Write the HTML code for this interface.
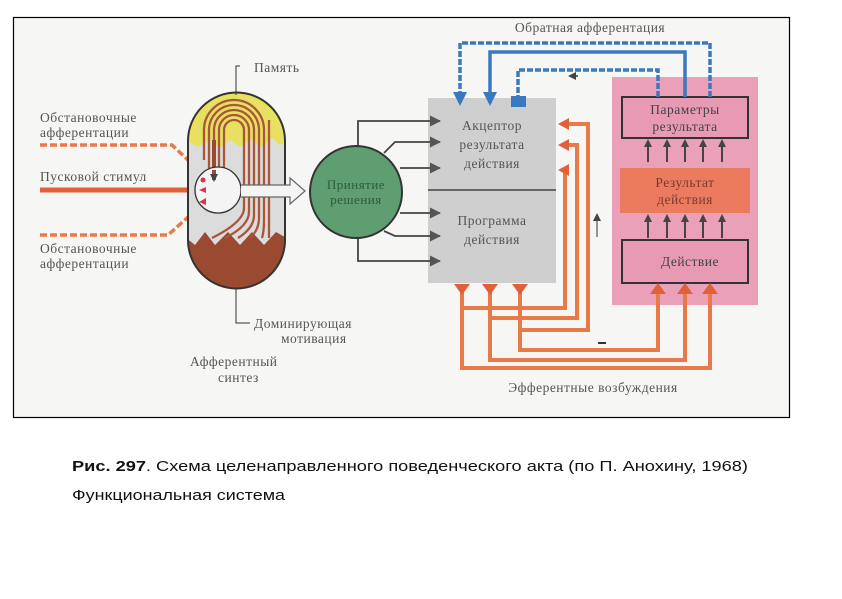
<!DOCTYPE html>
<html><head><meta charset="utf-8"><style>
html,body{margin:0;padding:0;background:#fff;}
svg{display:block;}
.t{font-family:"Liberation Serif",serif;fill:#555;font-size:13.5px;letter-spacing:0.5px;}
.c{font-family:"Liberation Sans",sans-serif;fill:#111;font-size:14.5px;}
</style></head><body>
<svg width="842" height="599" viewBox="0 0 842 599" xmlns="http://www.w3.org/2000/svg">
<defs>
<marker id="ab" markerWidth="8" markerHeight="8" refX="6" refY="4" orient="auto" markerUnits="userSpaceOnUse"><path d="M0,0 L8,4 L0,8 Z" fill="#444"/></marker>
<marker id="ak" markerWidth="11" markerHeight="11" refX="10" refY="5.5" orient="auto" markerUnits="userSpaceOnUse"><path d="M0,0 L11,5.5 L0,11 Z" fill="#555"/></marker>
<marker id="abl" markerWidth="14" markerHeight="14" refX="11" refY="7" orient="auto" markerUnits="userSpaceOnUse"><path d="M0,0 L14,7 L0,14 Z" fill="#3a78c0"/></marker>
</defs>
<rect x="13.5" y="17.5" width="776" height="400" fill="#f6f6f4" stroke="#000" stroke-width="1.2"/>

<text class="t" x="40" y="122">Обстановочные</text>
<text class="t" x="40" y="137">афферентации</text>
<text class="t" x="40" y="181">Пусковой стимул</text>
<text class="t" x="40" y="253">Обстановочные</text>
<text class="t" x="40" y="268">афферентации</text>
<path d="M40,145 H172 L205,176" fill="none" stroke="#e87a4a" stroke-width="3.5" stroke-dasharray="7,3"/>
<path d="M40,235 H168 L205,202" fill="none" stroke="#e87a4a" stroke-width="3.5" stroke-dasharray="7,3"/>
<path d="M40,190 H204" fill="none" stroke="#e0603a" stroke-width="5"/>

<clipPath id="cap"><path d="M188,141 A48.5,48.5 0 0 1 285,141 V240 A48.5,48.5 0 0 1 188,240 Z"/></clipPath>
<g clip-path="url(#cap)">
<rect x="185" y="90" width="105" height="200" fill="#dcdcdc"/>
<path d="M185,90 H290 V140 L280,145 L272,138 L262,147 L250,140 L240,147 L230,140 L220,148 L210,140 L198,147 L185,140 Z" fill="#e8e060"/>
<path d="M185,237 L195,245 L205,232 L215,245 L228,232 L240,245 L252,232 L264,245 L276,232 L290,240 V295 H185 Z" fill="#9a4a30"/>
</g>
<g fill="none" stroke="#a8583a" stroke-width="2.3">
<path d="M214,178 V130 A20,20 0 0 1 254,130 V215 Q254,228 238,238"/>
<path d="M219,175 V130 A15,15 0 0 1 249,130 V212 Q249,226 225,238"/>
<path d="M209,170 V130 A25,25 0 0 1 259,130 V218 Q259,230 250,238"/>
<path d="M204,160 V130 A30,30 0 0 1 264,130 V220 Q264,232 262,238"/>
<path d="M224,172 V130 A10,10 0 0 1 244,130 V208 Q244,222 212,238"/>
<path d="M269,120 V238"/>
</g>
<path d="M214,140 V175" stroke="#9a4a30" stroke-width="4"/>
<circle cx="218" cy="190" r="23" fill="#f4f4f4" stroke="#333" stroke-width="1.3"/>
<path d="M214,170 V180" stroke="#9a4a30" stroke-width="4" marker-end="url(#ab)"/>
<path d="M188,141 A48.5,48.5 0 0 1 285,141 V240 A48.5,48.5 0 0 1 188,240 Z" fill="none" stroke="#333" stroke-width="2"/>
<circle cx="203" cy="180" r="2.5" fill="#e0304a"/>
<path d="M199,190 l7,-3 v6 z M199,202 l7,-4 v7 z" fill="#e0304a"/>
<path d="M241,185 H290 V178 L305,191 L290,204 V197 H241" fill="#f4f4f4" stroke="#666" stroke-width="1.2"/>
<path d="M236,95 V66 H240" fill="none" stroke="#333" stroke-width="1"/>
<text class="t" x="254" y="72">Память</text>
<path d="M236,288 V323 H250" fill="none" stroke="#333" stroke-width="1"/>
<text class="t" x="254" y="328">Доминирующая</text>
<text class="t" x="281" y="343">мотивация</text>
<text class="t" x="190" y="366">Афферентный</text>
<text class="t" x="218" y="382">синтез</text>

<!-- grey box -->
<rect x="428" y="98" width="128" height="185" fill="#cfcfcf"/>
<line x1="428" y1="190" x2="556" y2="190" stroke="#444" stroke-width="1.5"/>
<text class="t" x="492" y="130" text-anchor="middle">Акцептор</text>
<text class="t" x="492" y="149" text-anchor="middle">результата</text>
<text class="t" x="492" y="168" text-anchor="middle">действия</text>
<text class="t" x="492" y="225" text-anchor="middle">Программа</text>
<text class="t" x="492" y="244" text-anchor="middle">действия</text>

<g stroke="#444" stroke-width="1.8" fill="none">
<path d="M358,147 V121 H440" marker-end="url(#ak)"/>
<path d="M384,153 L395,142 H440" marker-end="url(#ak)"/>
<path d="M400,168 H440" marker-end="url(#ak)"/>
<path d="M400,213 H440" marker-end="url(#ak)"/>
<path d="M384,231 L395,236 H440" marker-end="url(#ak)"/>
<path d="M358,237 V261 H440" marker-end="url(#ak)"/>
</g>
<circle cx="356" cy="192" r="46" fill="#5e9e70" stroke="#333" stroke-width="2"/>
<text class="t" x="356" y="189" text-anchor="middle" style="fill:#2f5a3a;font-size:13px">Принятие</text>
<text class="t" x="356" y="204" text-anchor="middle" style="fill:#2f5a3a;font-size:13px">решения</text>

<!-- pink -->
<rect x="612" y="77" width="146" height="228" fill="#eaa0b8"/>
<rect x="622" y="97" width="126" height="41" fill="#e89ab4" stroke="#333" stroke-width="2"/>
<rect x="620" y="168" width="130" height="45" fill="#ec7a5e"/>
<rect x="622" y="240" width="126" height="43" fill="#e89ab4" stroke="#333" stroke-width="2"/>
<text class="t" x="685" y="114" text-anchor="middle" style="fill:#444">Параметры</text>
<text class="t" x="685" y="131" text-anchor="middle" style="fill:#444">результата</text>
<text class="t" x="685" y="187" text-anchor="middle" style="fill:#7a3a30">Результат</text>
<text class="t" x="685" y="204" text-anchor="middle" style="fill:#7a3a30">действия</text>
<text class="t" x="690" y="266" text-anchor="middle" style="fill:#444">Действие</text>
<g stroke="#444" stroke-width="2">
<path d="M648,162 V141" marker-end="url(#ab)"/><path d="M667,162 V141" marker-end="url(#ab)"/><path d="M685,162 V141" marker-end="url(#ab)"/><path d="M703,162 V141" marker-end="url(#ab)"/><path d="M722,162 V141" marker-end="url(#ab)"/>
<path d="M648,238 V216" marker-end="url(#ab)"/><path d="M667,238 V216" marker-end="url(#ab)"/><path d="M685,238 V216" marker-end="url(#ab)"/><path d="M703,238 V216" marker-end="url(#ab)"/><path d="M722,238 V216" marker-end="url(#ab)"/>
</g>

<!-- blue -->
<text class="t" x="590" y="32" text-anchor="middle">Обратная афферентация</text>
<g fill="none" stroke="#3a78c0" stroke-width="3.5">
<path d="M710,97 V43 H460 V103" stroke-dasharray="6,2" marker-end="url(#abl)"/>
<path d="M685,97 V52 H490 V103" marker-end="url(#abl)"/>
<path d="M658,97 V70 H518 V97" stroke-dasharray="6,2"/>
</g>
<rect x="511" y="96" width="15" height="11" fill="#3a78c0"/>
<path d="M578,76 h-8" stroke="#333" stroke-width="1.5" marker-end="url(#ab)"/>

<!-- orange -->
<g fill="none" stroke="#e87a4a" stroke-width="4">
<path d="M462,290 V308 H565 V170 H568"/>
<path d="M490,290 V318 H577 V145 H568"/>
<path d="M520,290 V330 H588 V124 H568"/>
<path d="M520,290 V350 H658 V290"/>
<path d="M490,290 V360 H685 V290"/>
<path d="M462,290 V368 H710 V290"/>
</g>
<g fill="#e0603a">
<path d="M454,284 h16 l-8,11 z"/><path d="M482,284 h16 l-8,11 z"/><path d="M512,284 h16 l-8,11 z"/>
<path d="M558,170 l11,-6 v12 z"/><path d="M558,145 l11,-6 v12 z"/><path d="M558,124 l11,-6 v12 z"/>
<path d="M650,294 l8,-11 l8,11 z"/><path d="M677,294 l8,-11 l8,11 z"/><path d="M702,294 l8,-11 l8,11 z"/>
</g>
<path d="M597,237 V215" stroke="#333" stroke-width="1" marker-end="url(#ab)"/>
<path d="M598,343 h8" stroke="#333" stroke-width="2"/>
<text class="t" x="593" y="392" text-anchor="middle">Эфферентные возбуждения</text>

<text class="c" x="72" y="471" textLength="676" lengthAdjust="spacingAndGlyphs"><tspan font-weight="bold">Рис. 297</tspan>. Схема целенаправленного поведенческого акта  (по П. Анохину, 1968)</text>
<text class="c" x="72" y="500" textLength="213" lengthAdjust="spacingAndGlyphs">Функциональная система</text>
</svg>
</body></html>
